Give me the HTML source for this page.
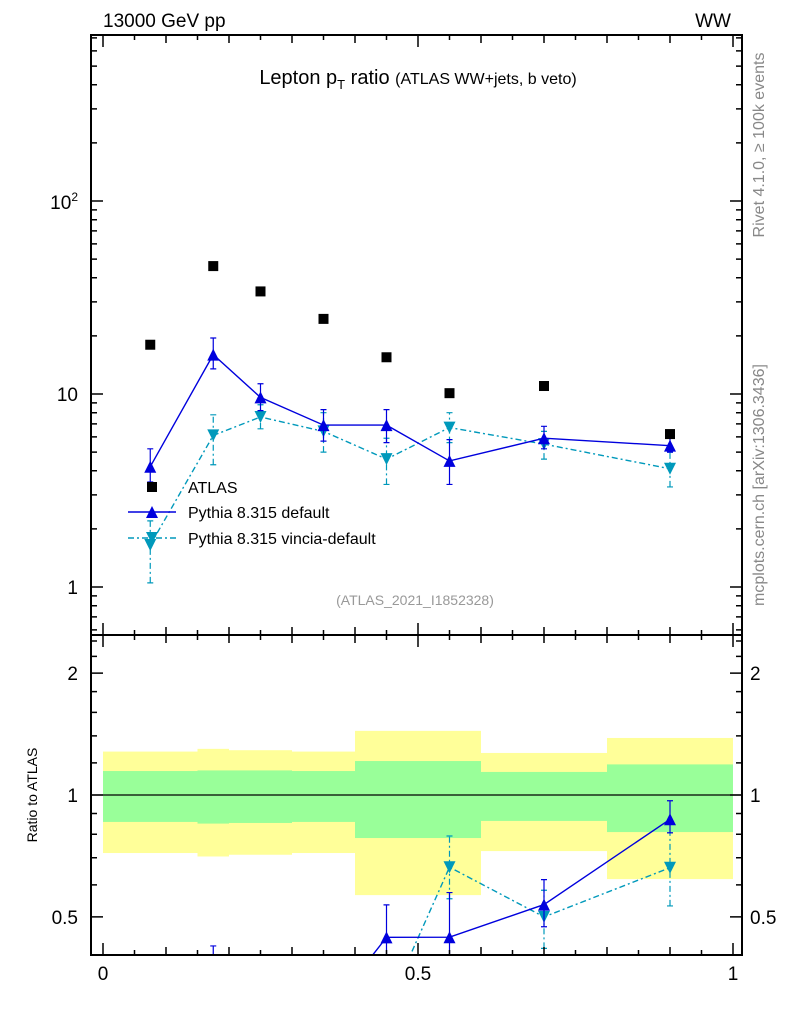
<!DOCTYPE html>
<html><head><meta charset="utf-8"><style>
html,body{margin:0;padding:0;background:#fff;overflow:hidden;width:786px;height:1024px}
svg{display:block;font-family:"Liberation Sans",sans-serif}
</style></head><body>
<svg id="c" width="786" height="1024"></svg>
<script>
const edges=[0,0.15,0.2,0.3,0.4,0.5,0.6,0.8,1.0];
const centers=[0.075,0.175,0.25,0.35,0.45,0.55,0.7,0.9];
const atlas=[18,46,34,24.5,15.5,10.1,11,6.2];
const pyDef=[4.2,16,9.6,6.9,6.9,4.5,5.9,5.4];
const pyDefLo=[3.5,13.5,8.2,5.7,5.6,3.4,5.2,5.0];
const pyDefHi=[5.2,19.5,11.3,8.3,8.3,5.8,6.8,6.0];
const pyVin=[1.65,6.1,7.6,6.4,4.6,6.7,5.5,4.1];
const pyVinLo=[1.05,4.3,6.6,5.0,3.4,5.6,4.6,3.3];
const pyVinHi=[2.2,7.8,8.8,8.0,5.9,8.0,6.4,5.0];
const bandYelLo=[0.719,0.705,0.712,0.719,0.566,0.566,0.727,0.62];
const bandYelHi=[1.28,1.30,1.29,1.28,1.44,1.44,1.27,1.383];
const bandGrnLo=[0.858,0.85,0.853,0.858,0.783,0.783,0.863,0.81];
const bandGrnHi=[1.146,1.15,1.15,1.146,1.213,1.213,1.14,1.19];
const xTicks=["0","0.5","1"];

const NS="http://www.w3.org/2000/svg";
const svg=document.getElementById('c');
function el(t,a,p){const e=document.createElementNS(NS,t);for(const k in a)e.setAttribute(k,a[k]);(p||svg).appendChild(e);return e;}
const X=v=>103+630*v;
const Y=v=>587-193*Math.log10(v);
const R=v=>795-405*Math.log10(v);
const L=91,Rr=742,T=35,M=635,B=955;

for(let i=0;i<8;i++){
 let e=el('rect',{x:X(edges[i]),y:R(bandYelHi[i]),width:X(edges[i+1])-X(edges[i]),height:R(bandYelLo[i])-R(bandYelHi[i]),fill:'#ffff99'});
 
 e=el('rect',{x:X(edges[i]),y:R(bandGrnHi[i]),width:X(edges[i+1])-X(edges[i]),height:R(bandGrnLo[i])-R(bandGrnHi[i]),fill:'#99ff99'});
 
}
el('line',{x1:L,x2:Rr,y1:R(1),y2:R(1),stroke:'#000','stroke-width':1.2});

const defs=el('defs',{});
const cp1=el('clipPath',{id:'cm'},defs);el('rect',{x:L,y:T,width:Rr-L,height:M-T},cp1);
const cp2=el('clipPath',{id:'cr'},defs);el('rect',{x:L,y:M,width:Rr-L,height:B-M},cp2);
const gm=el('g',{'clip-path':'url(#cm)'});
const gr=el('g',{'clip-path':'url(#cr)'});

function tri(g,x,y,c,down,name){const s=6;const pts=down?`${x-s},${y-s} ${x+s},${y-s} ${x},${y+s}`:`${x-s},${y+s} ${x+s},${y+s} ${x},${y-s}`;const e=el('polygon',{points:pts,fill:c},g);}
function series(g,vals,lo,hi,Yf,c,dash,down,name){
 const p=el('polyline',{points:centers.map((x,i)=>X(x)+','+Yf(vals[i])).join(' '),fill:'none',stroke:c,'stroke-width':1.4,'stroke-dasharray':dash||''},g);
 
 centers.forEach((x,i)=>{
  const e=el('path',{d:`M${X(x)},${Yf(lo[i])}V${Yf(hi[i])}M${X(x)-3},${Yf(lo[i])}h6M${X(x)-3},${Yf(hi[i])}h6`,stroke:c,'stroke-width':1.2,fill:'none','stroke-dasharray':dash||''},g);
  
  tri(g,X(x),Yf(vals[i]),c,down,name+'-marker');
 });
}
series(gm,pyVin,pyVinLo,pyVinHi,Y,'#0099bb','6,3,2,3',true,'vincia');
series(gm,pyDef,pyDefLo,pyDefHi,Y,'#0000dd','',false,'default');
atlas.forEach((v,i)=>{const e=el('rect',{x:X(centers[i])-5,y:Y(v)-5,width:10,height:10,fill:'#000'},gm);});
const rat=(a,i)=>a[i]/atlas[i];
series(gr,pyVin.map((v,i)=>rat(pyVin,i)),pyVinLo.map((v,i)=>rat(pyVinLo,i)),pyVinHi.map((v,i)=>rat(pyVinHi,i)),R,'#0099bb','6,3,2,3',true,'vincia-ratio');
series(gr,pyDef.map((v,i)=>rat(pyDef,i)),pyDefLo.map((v,i)=>rat(pyDefLo,i)),pyDefHi.map((v,i)=>rat(pyDefHi,i)),R,'#0000dd','',false,'default-ratio');

el('rect',{x:L,y:T,width:Rr-L,height:M-T,fill:'none',stroke:'#000','stroke-width':2});
el('rect',{x:L,y:M,width:Rr-L,height:B-M,fill:'none',stroke:'#000','stroke-width':2});

let d='';
for(let e=-1;e<=2;e++)for(let k=1;k<10;k++){const v=k*Math.pow(10,e);const y=Y(v);if(y<T||y>M)continue;const l=k==1?12:6;d+=`M${L},${y}h${l}M${Rr},${y}h${-l}`;}
[0.4,0.5,0.6,0.7,0.8,0.9,1,1.2,1.4,1.6,1.8,2,2.2,2.4].forEach(v=>{const y=R(v);if(y<M||y>B)return;const l=(v==0.5||v==1||v==2)?12:6;d+=`M${L},${y}h${l}M${Rr},${y}h${-l}`;});
for(let i=0;i<=20;i++){const v=i*0.05;const x=X(v);const l=i%10==0?12:(i%2==0?8:5);d+=`M${x},${M}v${-l}M${x},${M}v${l}M${x},${B}v${-l}M${x},${T}v${l}`;}
el('path',{d:d,stroke:'#000','stroke-width':1.5,fill:'none'});

function txt(s,a,name){const e=el('text',a);e.textContent=s;return e;}
txt('13000 GeV pp',{x:103,y:27,'font-size':19},'energy-label');
txt('WW',{x:731,y:27,'font-size':19,'text-anchor':'end'},'process-label');
const t=txt('',{x:418,y:84,'font-size':20,'text-anchor':'middle'},'plot-title');
t.innerHTML='Lepton p<tspan dy="5" font-size="13">T</tspan><tspan dy="-5"> ratio </tspan><tspan font-size="16">(ATLAS WW+jets, b veto)</tspan>';
const y2=txt('',{x:78,y:209,'font-size':19,'text-anchor':'end'},'y-tick-100');y2.innerHTML='10<tspan dy="-8" font-size="12">2</tspan>';
txt('10',{x:78,y:401,'font-size':19,'text-anchor':'end'},'y-tick-10');
txt('1',{x:78,y:594,'font-size':19,'text-anchor':'end'},'y-tick-1');
[['2',2],['1',1],['0.5',0.5]].forEach(([s,v])=>{txt(s,{x:78,y:R(v)+7,'font-size':19,'text-anchor':'end'},'ratio-tick-left');txt(s,{x:750,y:R(v)+7,'font-size':19},'ratio-tick-right');});
[0,0.5,1].forEach((v,i)=>txt(xTicks[i],{x:X(v),y:980,'font-size':19,'text-anchor':'middle'},'x-tick'));
txt('Ratio to ATLAS',{x:0,y:0,'font-size':14,'text-anchor':'middle',transform:'translate(37,795) rotate(-90)'},'ratio-axis-title');
txt('Rivet 4.1.0, \u2265 100k events',{x:0,y:0,'font-size':16,fill:'#888','text-anchor':'middle',transform:'translate(764,145) rotate(-90)'},'rivet-label');
txt('mcplots.cern.ch [arXiv:1306.3436]',{x:0,y:0,'font-size':16,fill:'#888','text-anchor':'middle',transform:'translate(764,485) rotate(-90)'},'mcplots-label');
txt('(ATLAS_2021_I1852328)',{x:415,y:605,'font-size':14,fill:'#999','text-anchor':'middle'},'analysis-id');

let e=el('rect',{x:147,y:482,width:10,height:10,fill:'#000'});
txt('ATLAS',{x:188,y:493,'font-size':16},'legend-atlas');
el('line',{x1:128,x2:176,y1:512,y2:512,stroke:'#0000dd','stroke-width':1.4});
tri(svg,152,512,'#0000dd',false,'legend-default-marker');
txt('Pythia 8.315 default',{x:188,y:518,'font-size':16},'legend-default');
el('line',{x1:128,x2:176,y1:538,y2:538,stroke:'#0099bb','stroke-width':1.4,'stroke-dasharray':'6,3,2,3'});
tri(svg,152,538,'#0099bb',true,'legend-vincia-marker');
txt('Pythia 8.315 vincia-default',{x:188,y:544,'font-size':16},'legend-vincia');
</script>
</body></html>
